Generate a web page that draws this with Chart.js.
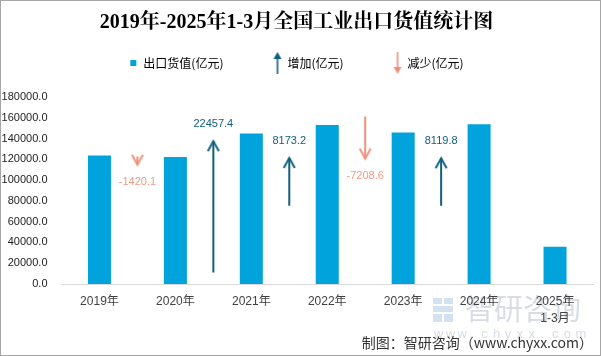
<!DOCTYPE html>
<html><head><meta charset="utf-8">
<script src="https://cdn.jsdelivr.net/npm/chart.js@4"></script>
<style>html,body{margin:0;padding:0;background:#fff;overflow:hidden}canvas{display:block}</style>
</head><body>
<canvas id="c" width="601" height="356"></canvas>
<script>
// ---- data ----
const categories = ['2019年', '2020年', '2021年', '2022年', '2023年', '2024年', ['2025年', '1-3月']];
const exportValues = [123720.1, 122300.0, 144757.4, 152930.6, 145722.0, 153841.8, 35900.0];
// year-on-year change between neighbouring categories (2019→2020 ... 2023→2024)
const changes = [-1420.1, 22457.4, 8173.2, -7208.6, 8119.8];
// starting level of each change arrow, on the hidden secondary axis
const arrowStarts = [21835, 1985, 13399, 28680, 13399];
const yTickMax = 180000;
const yTickStep = 20000;
const legendLabels = ['出口货值(亿元)', '增加(亿元)', '减少(亿元)'];
const chartTitle = '2019年-2025年1-3月全国工业出口货值统计图';
const sourceText = '制图：智研咨询（www.chyxx.com）';

// ---- styles ----
const BAR = '#00a3dc', UP = '#0f5f7e', DOWN = '#f0907a', DOWN_TXT = '#f29a84';
const SANS = "'Noto Sans CJK SC', 'Noto Sans', sans-serif";
const NUM = "'Liberation Sans', 'Noto Sans CJK SC', sans-serif";

function headCanvas(color, up) {
  const c = document.createElement('canvas'); c.width = 14; c.height = 24;
  const g = c.getContext('2d'); g.strokeStyle = color; g.lineWidth = 2;
  g.beginPath();
  if (up) { g.moveTo(1.5, 22); g.lineTo(7, 12); g.lineTo(12.5, 22); }
  else { g.moveTo(1.5, 2); g.lineTo(7, 12); g.lineTo(12.5, 2); }
  g.stroke(); return c;
}
function legendArrow(color, up) {
  const c = document.createElement('canvas'); c.width = 10; c.height = 22;
  const g = c.getContext('2d'); g.strokeStyle = color; g.fillStyle = color; g.lineWidth = 1.6;
  g.beginPath();
  if (up) { g.moveTo(5, 22); g.lineTo(5, 5); } else { g.moveTo(5, 0); g.lineTo(5, 17); }
  g.stroke();
  g.beginPath();
  if (up) { g.moveTo(5, 0); g.lineTo(1, 7); g.lineTo(9, 7); } else { g.moveTo(5, 22); g.lineTo(1, 15); g.lineTo(9, 15); }
  g.closePath(); g.fill(); return c;
}
const upHead = headCanvas(UP, true), downHead = headCanvas(DOWN, false);
const upLegend = legendArrow(UP, true), downLegend = legendArrow(DOWN, false);

function arrowPoints(sign) {
  const pts = [];
  changes.forEach((d, i) => {
    if (Math.sign(d) !== sign) return;
    const x = i + 0.5;
    pts.push({x: x, y: arrowStarts[i]}, {x: x, y: arrowStarts[i] + d, tip: true, value: d}, {x: x, y: null});
  });
  return pts;
}

const arrowLabels = {
  id: 'arrowLabels',
  afterDatasetsDraw(chart) {
    const ctx = chart.ctx;
    [1, 2].forEach(di => {
      const meta = chart.getDatasetMeta(di);
      const ds = chart.data.datasets[di];
      meta.data.forEach((pt, j) => {
        const raw = ds.data[j];
        if (!raw || !raw.tip) return;
        const up = raw.value > 0;
        ctx.save();
        ctx.font = '11px ' + NUM;
        ctx.fillStyle = up ? UP : DOWN_TXT;
        ctx.textAlign = 'center'; ctx.textBaseline = 'middle';
        ctx.fillText(raw.value.toFixed(1), pt.x, pt.y + (up ? -17 : 17));
        ctx.restore();
      });
    });
  }
};

const decor = {
  id: 'decor',
  beforeDraw(chart) {
    const ctx = chart.ctx;
    ctx.save();
    ctx.fillStyle = '#fff'; ctx.fillRect(0, 0, chart.width, chart.height);
    // faint watermark
    ctx.fillStyle = 'rgba(185,192,205,0.55)';
    ctx.font = '29px ' + SANS; ctx.textAlign = 'left'; ctx.textBaseline = 'middle';
    ctx.fillText('智研咨询', 465, 309);
    ctx.font = '13px ' + NUM;
    const url = 'www.chyxx.com';
    for (let k = 0; k < url.length; k++) ctx.fillText(url[k], 434 + k * 11.8, 334);
    ctx.fillStyle = 'rgba(170,195,225,0.5)';
    ctx.fillRect(433, 298, 9, 6); ctx.fillRect(444, 298, 9, 6);
    ctx.fillRect(433, 306, 20, 6); ctx.fillRect(433, 314, 9, 8); ctx.fillRect(444, 314, 9, 8);
    ctx.restore();
  },
  afterDraw(chart) {
    const ctx = chart.ctx;
    ctx.save(); ctx.strokeStyle = '#a6a6a6'; ctx.lineWidth = 1;
    ctx.strokeRect(0.5, 0.5, chart.width - 1, chart.height - 1);
    ctx.restore();
  }
};

new Chart(document.getElementById('c'), {
  type: 'bar',
  data: {
    datasets: [
      {type: 'bar', label: legendLabels[0], data: exportValues.map((v, i) => ({x: i, y: v})),
       backgroundColor: BAR, borderWidth: 0, barPercentage: 0.303, categoryPercentage: 1, yAxisID: 'y', order: 2},
      {type: 'line', label: legendLabels[1], data: arrowPoints(1), yAxisID: 'y2', borderColor: UP, borderWidth: 2,
       pointRadius: c => (c.raw && c.raw.tip) ? 1 : 0, pointStyle: upHead, spanGaps: false, fill: false, order: 1},
      {type: 'line', label: legendLabels[2], data: arrowPoints(-1), yAxisID: 'y2', borderColor: DOWN, borderWidth: 2,
       pointRadius: c => (c.raw && c.raw.tip) ? 1 : 0, pointStyle: downHead, spanGaps: false, fill: false, order: 1}
    ]
  },
  options: {
    responsive: false, animation: false, devicePixelRatio: 1, events: [],
    layout: {padding: {left: 0, right: 8, top: 0, bottom: 0}},
    scales: {
      x: {
        type: 'linear', min: -0.5, max: 6.5, offset: false,
        afterBuildTicks: s => { s.ticks = categories.map((_, i) => ({value: i})); },
        afterFit: s => { s.height = 72; },
        grid: {display: false, drawTicks: false},
        border: {display: true, color: '#d9d9d9', width: 1},
        ticks: {autoSkip: false, maxRotation: 0, padding: 9, color: '#404040',
                font: {size: 12, family: NUM, lineHeight: 1.4},
                callback: v => categories[v]},
        title: {display: true, text: sourceText, align: 'end', color: '#333',
                font: {size: 14, family: SANS, lineHeight: 1.2}, padding: {top: 0, bottom: 5}}
      },
      y: {
        min: 0, max: yTickMax,
        afterFit: s => { s.width = 61.5; },
        grid: {display: false, drawTicks: false},
        border: {display: false},
        ticks: {stepSize: yTickStep, padding: 14, color: '#222', font: {size: 11, family: NUM},
                callback: v => v.toFixed(1)}
      },
      y2: {display: false, min: 0, max: 32000}
    },
    plugins: {
      title: {display: true, text: chartTitle, color: '#000',
              font: {family: "'Liberation Serif', 'Noto Serif CJK SC', 'Noto Sans CJK SC', serif", size: 20, weight: 'bold', lineHeight: 1.2},
              padding: {top: 11, bottom: -28}},
      subtitle: {display: true, text: '', position: 'top', weight: 500, font: {size: 10, lineHeight: 1}, padding: {top: 0, bottom: 8}},
      legend: {
        display: true, position: 'top',
        labels: {
          usePointStyle: true, boxWidth: 8, boxHeight: 6, padding: 50, color: '#404040',
          font: {size: 12, family: SANS},
          generateLabels: () => [
            {text: legendLabels[0], pointStyle: 'rect', fillStyle: BAR, strokeStyle: BAR, lineWidth: 0, datasetIndex: 0},
            {text: legendLabels[1], pointStyle: upLegend, fillStyle: UP, strokeStyle: UP, lineWidth: 0, datasetIndex: 1},
            {text: legendLabels[2], pointStyle: downLegend, fillStyle: DOWN, strokeStyle: DOWN, lineWidth: 0, datasetIndex: 2}
          ]
        }
      },
      tooltip: {enabled: false}
    }
  },
  plugins: [arrowLabels, decor]
});
</script>
</body></html>
